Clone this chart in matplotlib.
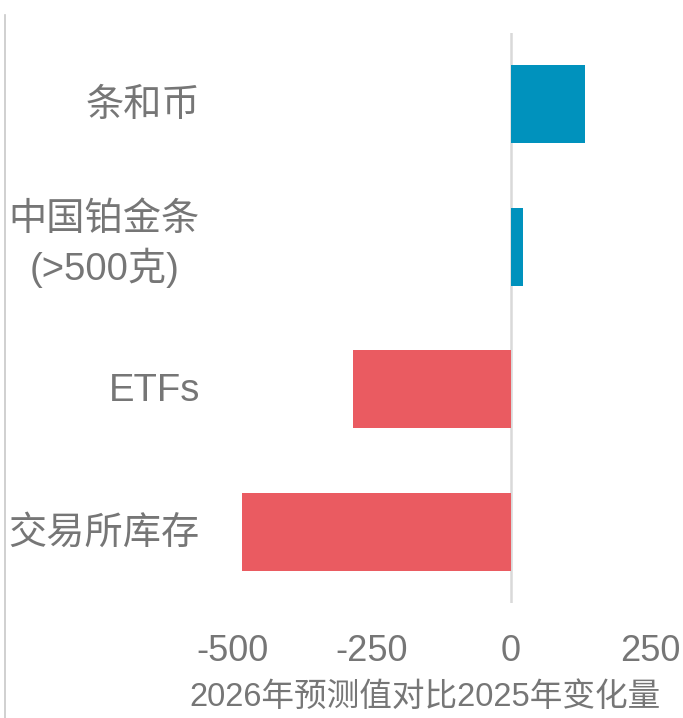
import matplotlib
matplotlib.use("Agg")
import matplotlib.pyplot as plt
from matplotlib.lines import Line2D
from matplotlib.transforms import blended_transform_factory, offset_copy

plt.rcParams['font.family'] = ['Liberation Sans', 'Noto Sans CJK SC', 'DejaVu Sans']

categories = ["条和币", "中国铂金条\n(>500克)", "ETFs", "交易所库存"]
values = [133, 21, -283, -482]
colors = ["#0092BD", "#0092BD", "#EA5B61", "#EA5B61"]
xticks = [-500, -250, 0, 250]
xticklabels = ["-500", "-250", "0", "250"]
xlabel = "2026年预测值对比2025年变化量"

W, H = 683, 718
fig = plt.figure(figsize=(W / 100, H / 100), dpi=100)
left_px, right_px, top_px, bottom_px = 215, 683, 33, 603
ax = fig.add_axes([left_px / W, 1 - bottom_px / H, (right_px - left_px) / W, (bottom_px - top_px) / H])

ypos = list(range(len(categories)))
ax.barh(ypos, values, height=0.55, color=colors)
ax.set_xlim(-530.5, 308)
ax.set_ylim(3.5, -0.5)
ax.axvline(0, color="#d9d9d9", lw=1.8, zorder=0)

for s in ax.spines.values():
    s.set_visible(False)

txt = "#767676"
ax.set_xticks(xticks)
ax.set_xticklabels(xticklabels, fontsize=26, color=txt)
ax.set_yticks([])
ax.tick_params(axis="both", length=0)
ax.tick_params(axis="x", pad=22)

trans = blended_transform_factory(fig.transFigure, ax.transData)
for y, lab in zip(ypos, categories):
    dy = 2 if "\n" in lab else -2
    t = offset_copy(trans, fig=fig, y=dy, units="dots")
    ax.text(200 / W, y, lab, transform=t, ha="right", va="center", fontsize=27.5,
            color=txt, multialignment="center", linespacing=1.3)

fig.text(425 / W, 1 - 697 / H, xlabel, ha="center", va="center", fontsize=23.5, color=txt)

fig.add_artist(Line2D([5 / W, 5 / W], [0, 1 - 15 / H], color="#c8c8c8", lw=1.2, transform=fig.transFigure))

fig.savefig("out.png", dpi=100)
